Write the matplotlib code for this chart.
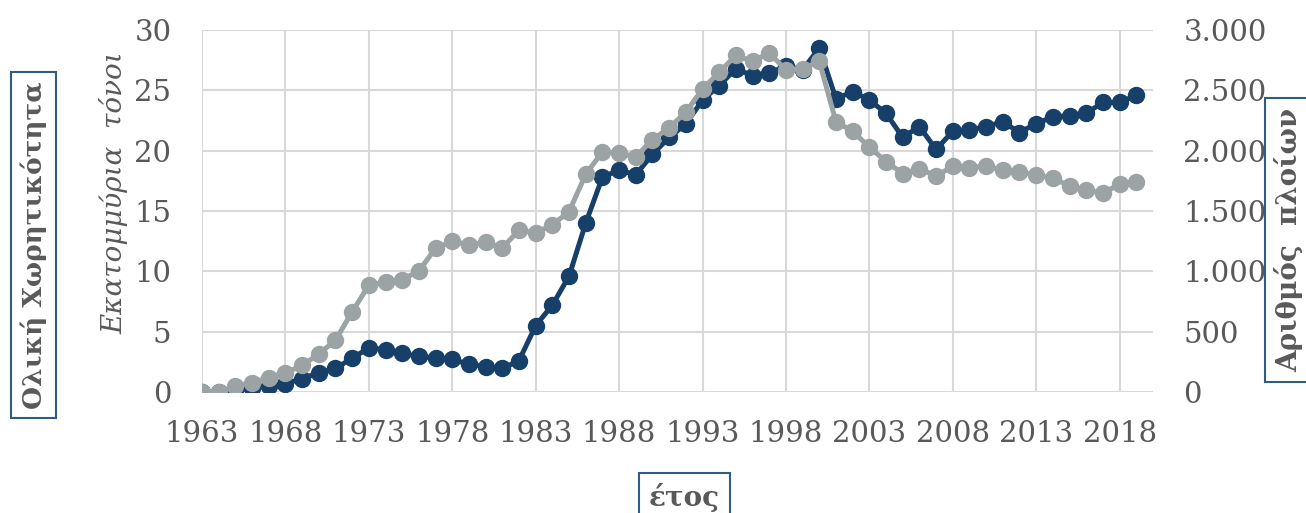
import matplotlib
matplotlib.use('Agg')
import matplotlib.pyplot as plt
from matplotlib.ticker import FuncFormatter

plt.rcParams['font.family'] = ['DejaVu Serif']

years = list(range(1963, 2020))

# total capacity, million tons (left axis)
capacity = [0.0, 0.0, 0.15, 0.3, 0.5, 0.7, 1.1, 1.6, 1.95, 2.8,
            3.65, 3.5, 3.2, 2.95, 2.8, 2.7, 2.3, 2.1, 1.95, 2.6,
            5.5, 7.2, 9.6, 14.0, 17.8, 18.4, 18.0, 19.7, 21.1, 22.2,
            24.2, 25.4, 26.8, 26.2, 26.45, 27.0, 26.7, 28.5, 24.3, 24.9,
            24.2, 23.1, 21.1, 22.0, 20.1, 21.6, 21.7, 22.0, 22.4, 21.5,
            22.25, 22.8, 22.9, 23.1, 24.0, 24.0, 24.6]

# number of ships (right axis)
ships = [0, 0, 50, 77, 120, 160, 220, 315, 430, 665,
         885, 910, 930, 1005, 1190, 1250, 1220, 1240, 1195, 1340,
         1320, 1385, 1495, 1805, 1990, 1980, 1950, 2090, 2190, 2320,
         2510, 2650, 2790, 2740, 2810, 2670, 2680, 2740, 2240, 2160,
         2030, 1910, 1810, 1850, 1790, 1870, 1860, 1870, 1840, 1820,
         1800, 1770, 1710, 1670, 1650, 1720, 1740]

left_ticks = [0, 5, 10, 15, 20, 25, 30]
right_ticks = [0, 500, 1000, 1500, 2000, 2500, 3000]
x_ticks = list(range(1963, 2019, 5))

navy = '#163f69'
grey = '#9ca3a5'
txt = '#595959'
boxc = '#2f5b88'

fig = plt.figure(figsize=(13.06, 5.13), dpi=100)
ax1 = fig.add_axes([0.1547, 0.2359, 0.7281, 0.7056])
ax2 = ax1.twinx()

ax1.plot(years, capacity, color=navy, lw=3.6, marker='o', ms=11.5, zorder=3)
ax2.plot(years, ships, color=grey, lw=3.6, marker='o', ms=11.5, zorder=3)

ax1.set_xlim(1963, 2020)
ax1.set_ylim(0, 30)
ax2.set_ylim(0, 3000)
ax1.set_xticks(x_ticks)
ax1.set_yticks(left_ticks)
ax2.set_yticks(right_ticks)
ax2.yaxis.set_major_formatter(FuncFormatter(lambda v, p: f'{int(v):,}'.replace(',', '.')))

ax1.grid(True, color='#d9d9d9', lw=1.5)
ax1.set_axisbelow(True)
for a in (ax1, ax2):
    for s in a.spines.values():
        s.set_visible(False)
ax1.tick_params(axis='x', length=0, pad=20, labelsize=21, labelcolor=txt)
ax1.tick_params(axis='y', length=0, pad=22, labelsize=21, labelcolor=txt)
ax2.tick_params(axis='y', length=0, pad=22, labelsize=21, labelcolor=txt)

fig.text(0.087, 0.625, 'Εκατομμύρια  τόνοι', rotation=90, ha='center', va='center',
         fontsize=20, style='italic', color=txt)

box = dict(boxstyle='square,pad=0.35', fc='white', ec=boxc, lw=1.5)
fig.text(0.026, 0.522, 'Ολική Χωρητικότητα', rotation=90, ha='center', va='center',
         fontsize=19, weight='bold', color=txt, bbox=box)
fig.text(0.987, 0.532, 'Αριθμός  πλοίων', rotation=90, ha='center', va='center',
         fontsize=20, weight='bold', color=txt, bbox=box)
fig.text(0.524, 0.03, 'έτος', ha='center', va='center',
         fontsize=20, weight='bold', color=txt, bbox=box)

fig.savefig('out.png', dpi=100)
